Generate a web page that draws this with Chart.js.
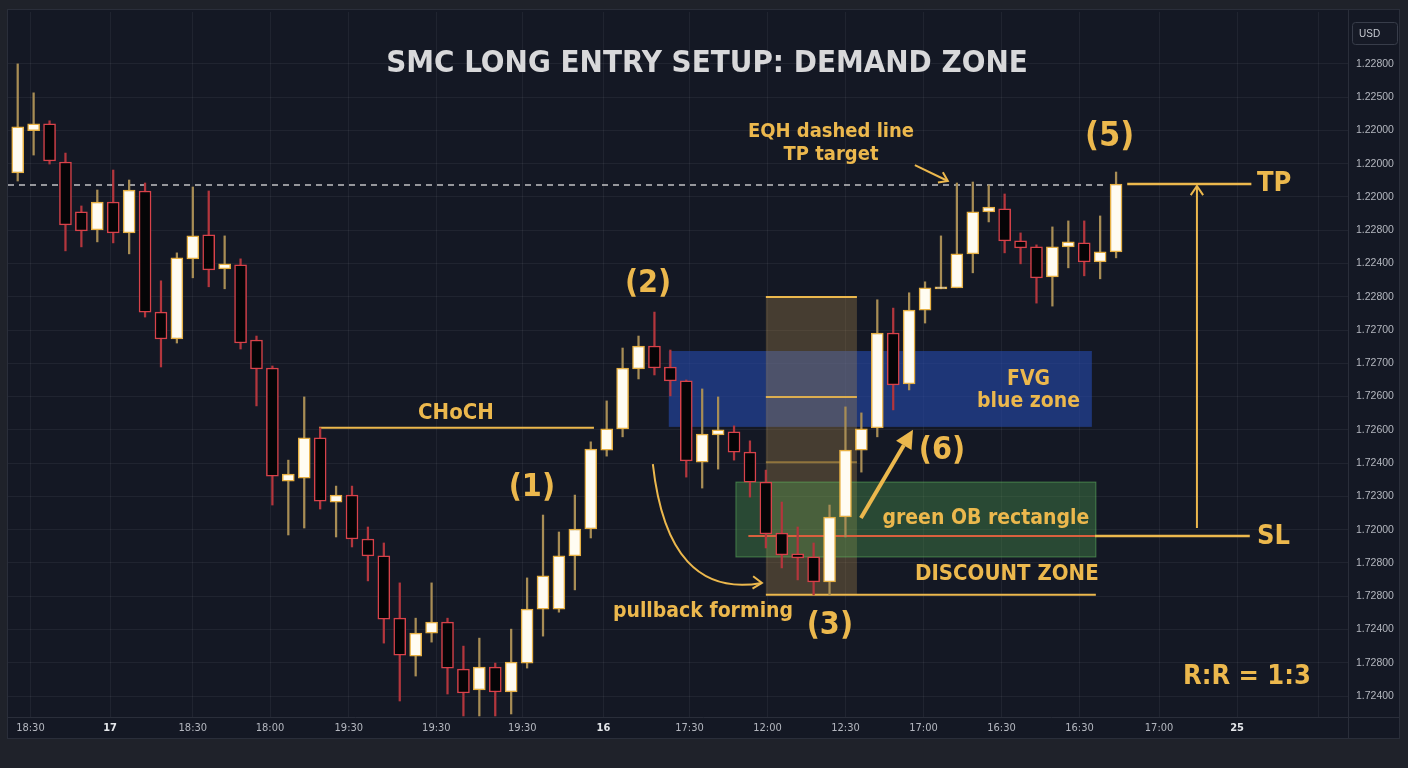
<!DOCTYPE html>
<html>
<head>
<meta charset="utf-8">
<script src="https://cdn.jsdelivr.net/npm/chart.js@4.4.1/dist/chart.umd.min.js"></script>
<style>
  html, body { margin: 0; padding: 0; background: #1f222a; width: 1408px; height: 768px; overflow: hidden; }
  #panel { position: absolute; left: 7px; top: 9px; width: 1393px; height: 730px; border: 1px solid #2a2e3a; box-sizing: border-box; background: #141824; }
  #chart { position: absolute; left: 0; top: 0; }
</style>
</head>
<body>
<div id="panel"><canvas id="chart" width="1391" height="728"></canvas></div>
<script>
// candles: open / high / low / close (chart price units)
const candleOpen = [15.72,16.99,17.20,16.05,14.55,14.01,14.85,13.92,15.18,11.54,10.73,13.14,13.86,12.84,12.96,10.70,9.86,6.46,6.55,7.76,5.83,6.04,4.72,4.21,2.34,1.20,1.89,2.22,0.81,0.18,0.87,0.12,0.99,2.61,2.61,4.21,5.02,7.39,8.03,9.83,10.52,9.89,9.47,7.03,7.85,7.94,7.33,6.43,4.90,4.27,4.18,3.43,5.38,7.39,8.06,10.91,9.38,11.60,12.24,12.27,13.29,14.55,14.64,13.68,13.50,12.60,13.50,13.62,13.05,13.35];
const candleHigh = [19.00,18.13,17.29,16.32,14.73,15.21,15.81,15.51,15.42,12.48,13.32,15.30,15.18,13.83,13.14,10.82,9.92,7.09,8.99,8.06,6.31,6.31,5.08,4.60,3.40,2.34,3.40,2.34,1.50,1.74,0.99,2.01,3.55,5.44,4.93,6.04,7.64,8.87,10.46,10.82,11.54,10.40,9.50,9.23,8.99,8.12,7.67,6.79,5.83,5.08,4.60,5.74,8.69,8.51,11.91,11.66,12.12,12.45,13.83,15.42,15.45,15.36,15.09,13.92,13.56,14.10,14.28,14.28,14.43,15.75];
const candleLow = [15.48,16.26,15.99,13.38,13.50,13.65,13.62,13.29,11.39,9.89,10.61,12.57,12.30,12.24,10.43,8.72,5.74,4.84,5.05,5.62,4.78,4.48,3.46,1.59,-0.15,0.60,1.62,0.06,-0.60,-0.60,-0.60,-0.54,0.84,1.80,2.52,3.19,4.75,7.21,7.79,9.53,9.65,9.02,6.58,6.25,6.82,7.09,5.98,4.45,3.85,3.49,3.04,3.04,4.78,6.73,7.79,8.60,9.20,11.21,12.24,12.27,12.72,14.25,13.32,12.99,11.81,11.72,12.87,12.63,12.54,13.17];
const candleClose = [17.11,17.20,16.08,14.16,13.98,14.85,13.92,15.21,11.54,10.73,13.17,13.83,12.81,12.99,10.61,9.83,6.61,6.67,7.76,5.86,6.04,4.72,4.21,2.31,1.23,1.89,2.22,0.84,0.09,0.87,0.12,1.02,2.61,3.61,4.21,5.02,7.42,8.03,9.86,10.52,9.86,9.47,7.07,7.87,8.00,7.33,6.43,4.87,4.24,4.15,3.43,5.38,7.39,8.03,10.91,9.35,11.60,12.27,12.30,13.29,14.55,14.70,13.68,13.47,12.57,13.50,13.65,13.05,13.35,15.39];

// axis labels (as printed on the picture)
const xTickPos = [0.8, 5.8, 11.0, 15.85, 20.8, 26.3, 31.7, 36.8, 42.2, 47.1, 52.0, 56.9, 61.8, 66.7, 71.7, 76.6, 81.7];
const xTickLabels = ['18:30', '17', '18:30', '18:00', '19:30', '19:30', '19:30', '16', '17:30', '12:00', '12:30', '17:00', '16:30', '16:30', '17:00', '25', ''];
const xBoldLabels = ['17', '16', '25'];
const yTickLabels = ['1.72400', '1.72800', '1.72400', '1.72800', '1.72800', '1.72000', '1.72300', '1.72400', '1.72600', '1.72600', '1.72700', '1.72700', '1.22800', '1.22400', '1.22800', '1.22000', '1.22000', '1.22000', '1.22500', '1.22800'];

const GOLD = '#ecb84d';
const FONT = '"DejaVu Sans Condensed", "DejaVu Sans", sans-serif';
const BULL_FILL = '#fffcf2', BULL_LINE = '#e7b043', BULL_WICK = '#a88d55';
const BEAR_FILL = '#050507', BEAR_LINE = '#d8424a', BEAR_WICK = '#b3363d';

const isBull = candleOpen.map((o, i) => candleClose[i] >= o);

// 画注释用的小工具
function drawText(ctx, txt, x, y, size, color, align) {
    ctx.save();
    ctx.font = `bold ${size}px ${FONT}`;
    ctx.fillStyle = color;
    ctx.textAlign = align || 'center';
    ctx.textBaseline = 'middle';
    ctx.fillText(txt, x, y);
    ctx.restore();
}

function drawLine(ctx, x1, y1, x2, y2, color, width, dash) {
    ctx.save();
    ctx.strokeStyle = color;
    ctx.lineWidth = width;
    if (dash) ctx.setLineDash(dash);
    ctx.beginPath();
    ctx.moveTo(x1, y1);
    ctx.lineTo(x2, y2);
    ctx.stroke();
    ctx.restore();
}

function openHead(ctx, x, y, ang, len, color, width) {
    ctx.save();
    ctx.strokeStyle = color;
    ctx.lineWidth = width;
    ctx.beginPath();
    ctx.moveTo(x - len * Math.cos(ang - 0.6), y - len * Math.sin(ang - 0.6));
    ctx.lineTo(x, y);
    ctx.lineTo(x - len * Math.cos(ang + 0.6), y - len * Math.sin(ang + 0.6));
    ctx.stroke();
    ctx.restore();
}

const overlay = {
    id: 'smcOverlay',
    beforeDatasetsDraw(chart) {
        const ctx = chart.ctx;
        const X = v => chart.scales.x.getPixelForValue(v);
        const Y = v => chart.scales.y.getPixelForValue(v);
        const area = chart.chartArea;

        // FVG blue zone
        ctx.fillStyle = 'rgba(38,76,180,0.58)';
        ctx.fillRect(X(40.9), Y(10.37), X(67.48) - X(40.9), Y(8.09) - Y(10.37));
        // discount / fib column
        ctx.fillStyle = 'rgba(190,150,80,0.30)';
        ctx.fillRect(X(47.0), Y(11.99), X(52.72) - X(47.0), Y(3.04) - Y(11.99));
        // green OB rectangle
        ctx.fillStyle = 'rgba(80,160,80,0.36)';
        ctx.fillRect(X(45.12), Y(6.43), X(67.73) - X(45.12), Y(4.18) - Y(6.43));
        ctx.strokeStyle = 'rgba(100,185,100,0.55)';
        ctx.lineWidth = 1;
        ctx.strokeRect(X(45.12), Y(6.43), X(67.73) - X(45.12), Y(4.18) - Y(6.43));

        drawLine(ctx, X(47.0), Y(11.99), X(52.72), Y(11.99), GOLD, 2);
        drawLine(ctx, X(47.0), Y(8.99), X(52.72), Y(8.99), 'rgba(236,184,77,0.9)', 2);
        drawLine(ctx, X(47.0), Y(7.03), X(52.72), Y(7.03), 'rgba(236,184,77,0.45)', 2);
        drawLine(ctx, X(47.0), Y(3.04), X(67.73), Y(3.04), GOLD, 2);
        // SL level inside the OB
        drawLine(ctx, X(45.9), Y(4.81), X(67.67), Y(4.81), '#d9603e', 2);
        // EQH dashed line
        drawLine(ctx, area.left, Y(15.36), X(68.3), Y(15.36), 'rgba(225,225,225,0.85)', 1.5, [6, 5]);
        // CHoCH
        drawLine(ctx, X(18.93), Y(8.06), X(36.2), Y(8.06), GOLD, 2);
    },
    afterDatasetsDraw(chart) {
        const ctx = chart.ctx;
        const X = v => chart.scales.x.getPixelForValue(v);
        const Y = v => chart.scales.y.getPixelForValue(v);
        const area = chart.chartArea;

        drawText(ctx, 'SMC LONG ENTRY SETUP: DEMAND ZONE', area.left + 699, area.top + 52, 31, '#d8d8da');

        drawText(ctx, 'EQH dashed line', X(51.09), Y(16.96), 20, GOLD);
        drawText(ctx, 'TP target', X(51.09), Y(16.26), 20, GOLD);
        drawLine(ctx, X(56.36), Y(15.96), X(58.43), Y(15.48), GOLD, 2);
        openHead(ctx, X(58.43), Y(15.48), Math.atan2(Y(15.48) - Y(15.96), X(58.43) - X(56.36)), 10, GOLD, 2);

        drawText(ctx, '(5)', X(68.6), Y(16.8), 34, GOLD);
        drawText(ctx, '(1)', X(32.3), Y(6.25), 32, GOLD);
        drawText(ctx, '(2)', X(39.6), Y(12.39), 32, GOLD);
        drawText(ctx, '(3)', X(51.02), Y(2.10), 32, GOLD);
        drawText(ctx, '(6)', X(58.06), Y(7.37), 32, GOLD);
        drawText(ctx, 'CHoCH', X(27.53), Y(8.51), 22, GOLD);
        drawText(ctx, 'FVG', X(63.5), Y(9.50), 21, GOLD);
        drawText(ctx, 'blue zone', X(63.5), Y(8.84), 21, GOLD);
        drawText(ctx, 'green OB rectangle', X(60.82), Y(5.32), 21, GOLD);
        drawText(ctx, 'DISCOUNT ZONE', X(62.14), Y(3.67), 22, GOLD);
        drawText(ctx, 'pullback forming', X(43.05), Y(2.53), 21, GOLD);
        drawText(ctx, 'R:R = 1:3', X(77.22), Y(0.57), 27, GOLD);

        // TP / SL levels
        drawLine(ctx, X(69.7), Y(15.39), X(77.5), Y(15.39), GOLD, 2.5);
        drawLine(ctx, X(67.67), Y(4.81), X(77.4), Y(4.81), GOLD, 2.5);
        drawText(ctx, 'TP', X(77.85), Y(15.39), 27, GOLD, 'left');
        drawText(ctx, 'SL', X(77.85), Y(4.78), 27, GOLD, 'left');
        drawLine(ctx, X(74.08), Y(5.05), X(74.08), Y(15.33), GOLD, 2);
        openHead(ctx, X(74.08), Y(15.33), -Math.PI / 2, 11, GOLD, 2);

        // pullback curve
        ctx.save();
        ctx.strokeStyle = GOLD;
        ctx.lineWidth = 2;
        ctx.beginPath();
        ctx.moveTo(X(39.9), Y(6.97));
        ctx.quadraticCurveTo(X(40.85), Y(2.89), X(46.75), Y(3.40));
        ctx.stroke();
        ctx.restore();
        openHead(ctx, X(46.75), Y(3.40), 0.05, 11, GOLD, 2);

        // (6) arrow
        const ax1 = X(52.97), ay1 = Y(5.35), ax2 = X(56.24), ay2 = Y(8.0);
        const ang = Math.atan2(ay2 - ay1, ax2 - ax1);
        const bx = ax2 - 18 * Math.cos(ang), by = ay2 - 18 * Math.sin(ang);
        drawLine(ctx, ax1, ay1, bx, by, GOLD, 4);
        ctx.save();
        ctx.fillStyle = GOLD;
        ctx.beginPath();
        ctx.moveTo(ax2, ay2);
        ctx.lineTo(bx + 9 * Math.sin(ang), by - 9 * Math.cos(ang));
        ctx.lineTo(bx - 9 * Math.sin(ang), by + 9 * Math.cos(ang));
        ctx.closePath();
        ctx.fill();
        ctx.restore();
    },
    afterDraw(chart) {
        const ctx = chart.ctx;
        const ys = chart.scales.y, xs = chart.scales.x;
        // axis separators
        drawLine(ctx, ys.left + 0.5, 0, ys.left + 0.5, chart.height, '#2a2e3a', 1);
        drawLine(ctx, 0, xs.top + 0.5, chart.width, xs.top + 0.5, '#2a2e3a', 1);
        // USD box
        ctx.save();
        ctx.fillStyle = '#161a26';
        ctx.strokeStyle = '#383d4a';
        ctx.lineWidth = 1;
        ctx.beginPath();
        ctx.roundRect(ys.left + 4.5, 12.5, 45, 22, 3);
        ctx.fill();
        ctx.stroke();
        ctx.fillStyle = '#c8cbd2';
        ctx.font = '10px "Liberation Sans", sans-serif';
        ctx.textBaseline = 'middle';
        ctx.fillText('USD', ys.left + 11, 24);
        ctx.restore();
    }
};

new Chart(document.getElementById('chart'), {
    type: 'bar',
    data: {
        datasets: [
            {
                label: 'body',
                data: candleOpen.map((o, i) => ({ x: i, y: [o, candleClose[i]] })),
                backgroundColor: isBull.map(b => b ? BULL_FILL : BEAR_FILL),
                borderColor: isBull.map(b => b ? BULL_LINE : BEAR_LINE),
                borderWidth: 1.5,
                borderSkipped: false,
                barThickness: 12,
                grouped: false,
                order: 0
            },
            {
                label: 'wick',
                data: candleLow.map((l, i) => ({ x: i, y: [l, candleHigh[i]] })),
                backgroundColor: isBull.map(b => b ? BULL_WICK : BEAR_WICK),
                borderWidth: 0,
                barThickness: 1.6,
                grouped: false,
                order: 1
            }
        ]
    },
    options: {
        responsive: false,
        animation: false,
        layout: { padding: { top: 2 } },
        plugins: {
            legend: { display: false },
            tooltip: { enabled: false },
            title: { display: false }
        },
        scales: {
            x: {
                type: 'linear',
                min: -0.61,
                max: 83.57,
                offset: false,
                afterBuildTicks: s => { s.ticks = xTickPos.map(v => ({ value: v })); },
                afterFit: s => { s.height = 21; s.paddingLeft = 0; s.paddingRight = 0; },
                grid: { color: 'rgba(255,255,255,0.055)', drawTicks: false, offset: false },
                border: { display: false },
                ticks: {
                    callback: (v, i) => xTickLabels[i],
                    color: ctx => xBoldLabels.includes(xTickLabels[ctx.index]) ? '#e4e6ea' : '#b4b7bf',
                    font: ctx => ({ family: '"Liberation Sans Narrow", "DejaVu Sans Condensed", sans-serif', size: 11, weight: xBoldLabels.includes(xTickLabels[ctx.index]) ? 'bold' : 'normal' }),
                    padding: 5,
                    maxRotation: 0,
                    autoSkip: false
                }
            },
            y: {
                position: 'right',
                min: -0.631,
                max: 20.56,
                afterBuildTicks: s => { s.ticks = yTickLabels.map((_, i) => ({ value: i })); },
                afterFit: s => { s.width = 51; s.paddingTop = 0; s.paddingBottom = 0; },
                grid: { color: 'rgba(255,255,255,0.055)', drawTicks: false, offset: false },
                border: { display: false },
                ticks: {
                    callback: (v, i) => yTickLabels[i],
                    color: '#b4b7bf',
                    font: { family: '"Liberation Sans", sans-serif', size: 10.5 },
                    padding: 8
                }
            }
        }
    },
    plugins: [overlay]
});
</script>
</body>
</html>
